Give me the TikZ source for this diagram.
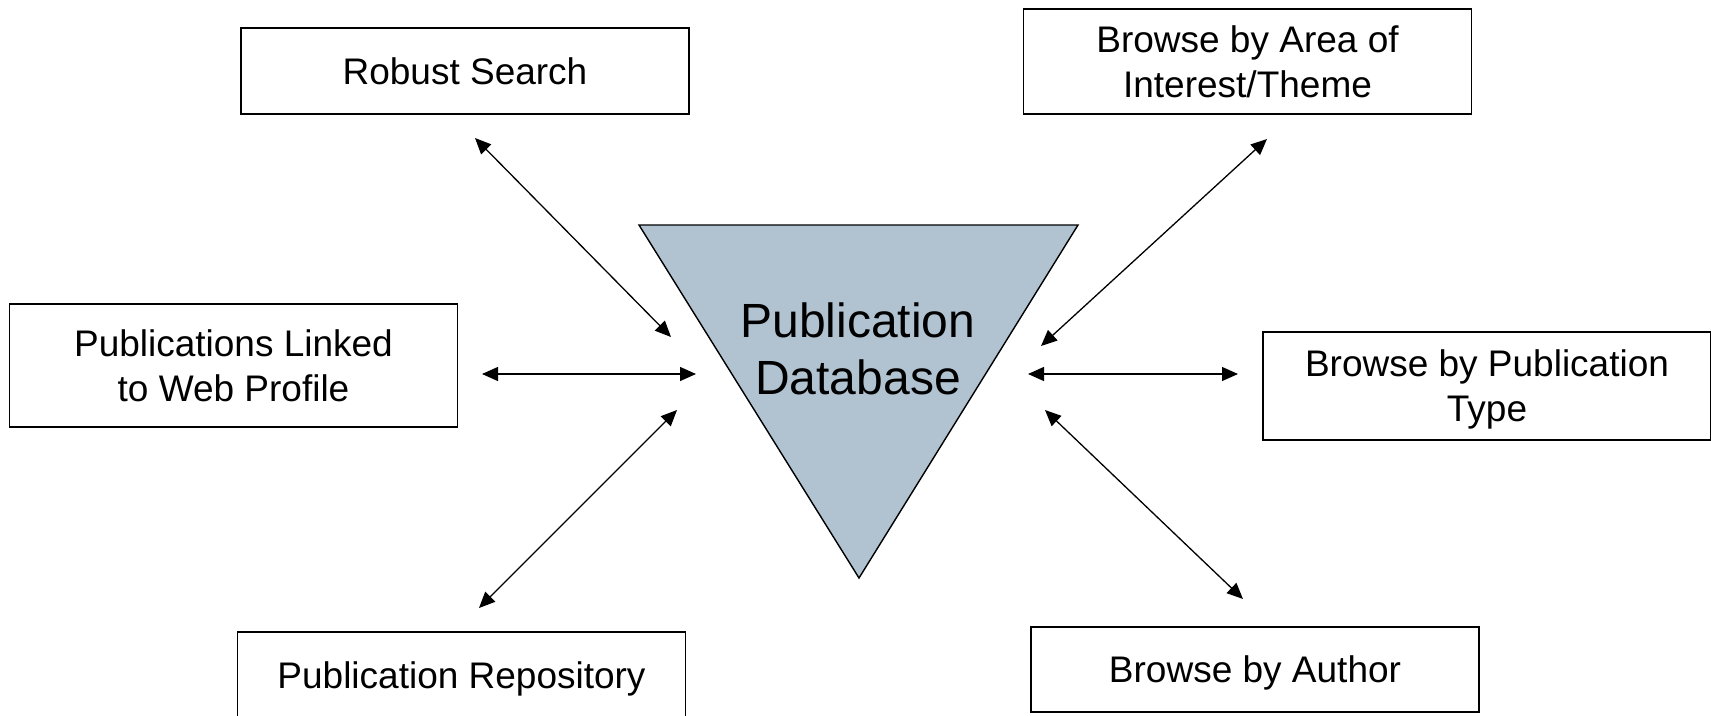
\documentclass[tikz,border=0pt]{standalone}
\usepackage{fontspec}
\setmainfont{Liberation Sans}
\usetikzlibrary{arrows.meta}
\definecolor{dbfill}{RGB}{177,195,209}
\tikzset{
  infobox/.style={draw=black, line width=1.5pt, fill=white, minimum width=448pt,
    inner sep=0pt, align=center, text depth=0pt, font=\fontsize{37}{45}\selectfont},
  link/.style={line width=1.3pt, {Triangle[length=16pt,width=14pt]}-{Triangle[length=16pt,width=14pt]}},
  dbshape/.style={draw=black, line width=1.4pt, fill=dbfill, line join=miter},
  dbtext/.style={align=center, text depth=0pt, font=\fontsize{48}{57}\selectfont, inner sep=0pt}
}
\begin{document}
\begin{tikzpicture}[x=1pt,y=-1pt]
\useasboundingbox (0,0) rectangle (1711,715);
\fill[white] (0,0) rectangle (1711,715);
% central triangle
\draw[dbshape] (639,225) -- (1078,225) -- (859,578) -- cycle;
\node[dbtext] (db) at (858,348.5) {Publication\\Database};
% boxes
\node[infobox, minimum height=86pt] (search) at (465,71) {Robust Search};
\node[infobox, minimum height=105pt] (area) at (1247.5,61.5) {Browse by Area of\\Interest/Theme};
\node[infobox, minimum height=123pt] (linked) at (233.5,365.5) {Publications Linked\\to Web Profile};
\node[infobox, minimum height=108pt] (ptype) at (1487,386) {Browse by Publication\\Type};
\node[infobox, minimum height=86pt] (repo) at (461.5,675) {Publication Repository};
\node[infobox, minimum height=85pt] (author) at (1255,669.5) {Browse by Author};
% connector ends
\coordinate (s1) at (475,138);  \coordinate (s2) at (671,337);
\coordinate (l1) at (482,374);  \coordinate (l2) at (696,374);
\coordinate (r1) at (479,608);  \coordinate (r2) at (677,410);
\coordinate (a1) at (1267,139); \coordinate (a2) at (1041,346);
\coordinate (t1) at (1238,374); \coordinate (t2) at (1028,374);
\coordinate (b1) at (1243,599); \coordinate (b2) at (1045,410);
\draw[link] (s1) -- (s2);
\draw[link] (l1) -- (l2);
\draw[link] (r1) -- (r2);
\draw[link] (a1) -- (a2);
\draw[link] (t1) -- (t2);
\draw[link] (b1) -- (b2);
\end{tikzpicture}
\end{document}
